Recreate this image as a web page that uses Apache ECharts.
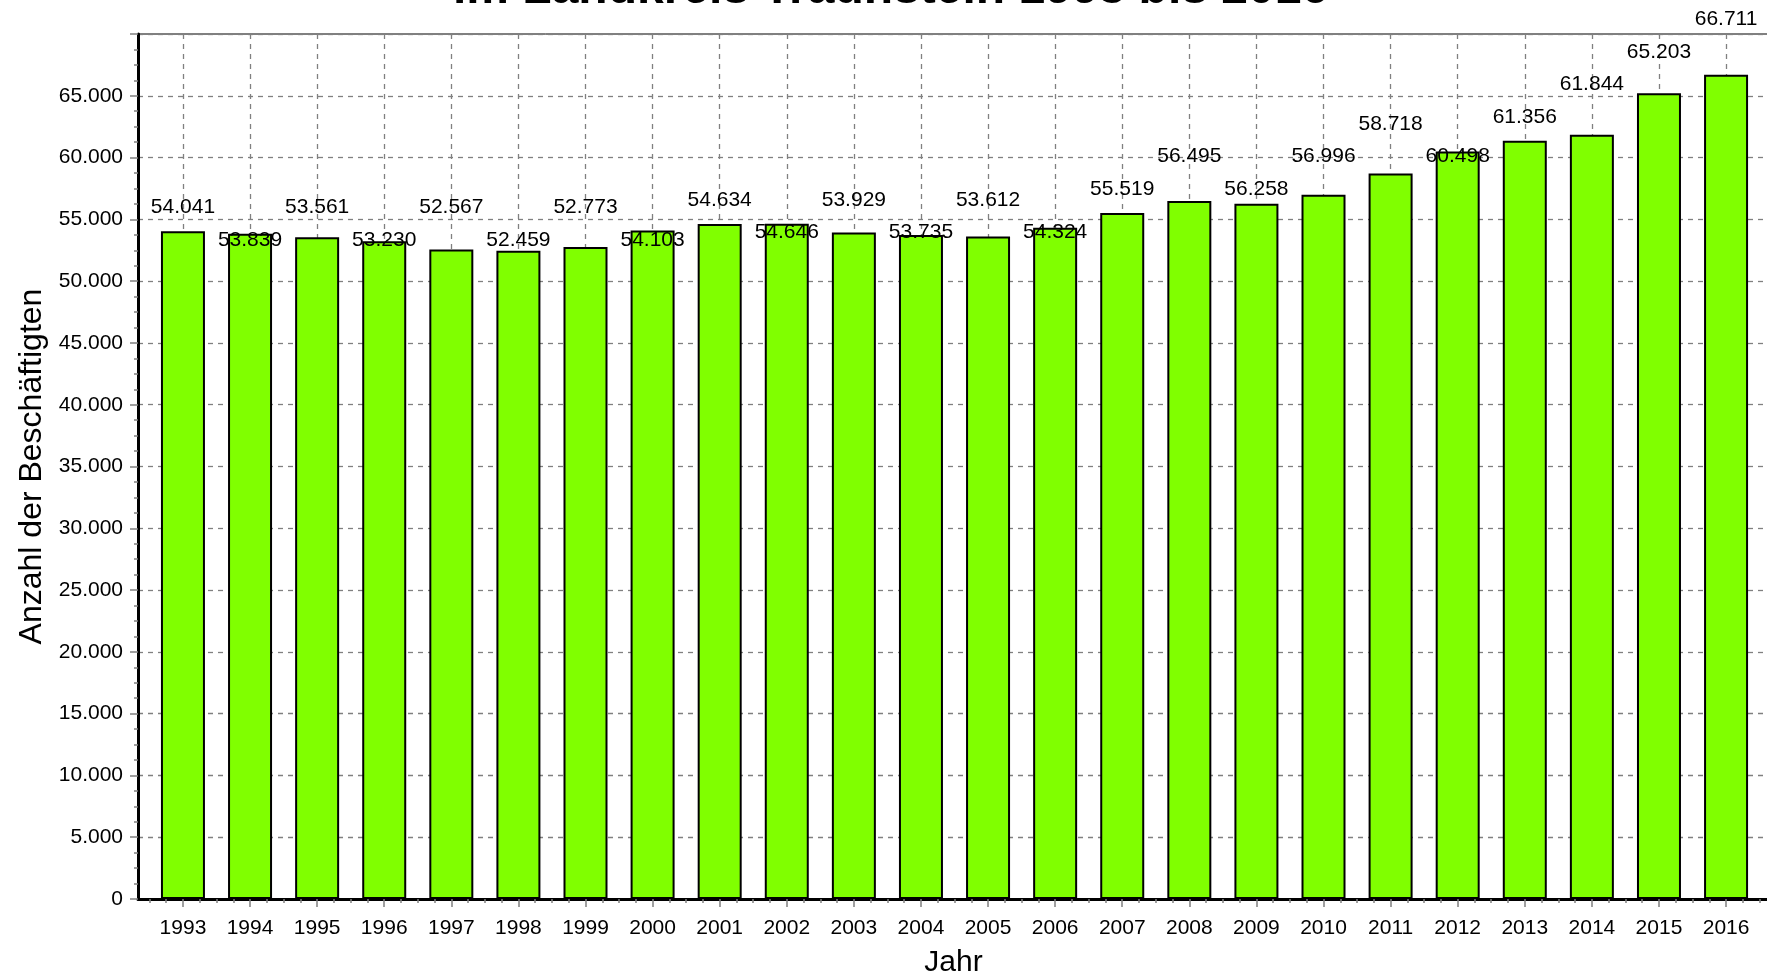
<!DOCTYPE html>
<html>
<head>
<meta charset="utf-8">
<script src="https://cdn.jsdelivr.net/npm/echarts@6/dist/echarts.min.js"></script>
<style>
html, body { margin: 0; padding: 0; background: #fff; }
#main { width: 1767px; height: 976px; }
</style>
</head>
<body>
<div id="main"></div>
<script>
(function(){
var years = [1993, 1994, 1995, 1996, 1997, 1998, 1999, 2000, 2001, 2002, 2003, 2004,
             2005, 2006, 2007, 2008, 2009, 2010, 2011, 2012, 2013, 2014, 2015, 2016];
var beschaeftigte = [54041, 53839, 53561, 53230, 52567, 52459, 52773, 54103, 54634, 54646, 53929, 53735,
                     53612, 54324, 55519, 56495, 56258, 56996, 58718, 60498, 61356, 61844, 65203, 66711];
var titel = 'im Landkreis Traunstein 1993 bis 2016';
var yName = 'Anzahl der Beschäftigten';
var xName = 'Jahr';

var FONT = '"Liberation Sans", Arial, sans-serif';
var xMin = 1992.33, xMax = 2016.64;

// Tausenderpunkt
function fmt(v){
    return String(v).replace(/\B(?=(\d{3})+(?!\d))/g, '.');
}

// Zwischenstriche (Viertel) auf der x-Achse
var quarterTicks = [];
for (var y = years[0] - 1; y <= years[years.length - 1]; y++) {
    [0.25, 0.5, 0.75].forEach(function(q){
        if (y + q > xMin && y + q < xMax) quarterTicks.push(y + q);
    });
}

var myChart = echarts.init(document.getElementById('main'));

var gridBox = { left: 138, right: -2, top: 34, bottom: 77, outerBoundsMode: 'none', containLabel: false };

option = {
    animation: false,
    backgroundColor: '#fff',
    title: {
        text: titel,
        left: 453,
        top: -34,
        padding: 0,
        textStyle: { fontFamily: FONT, fontSize: 48, fontWeight: 'bold', color: '#000' }
    },
    grid: [
        Object.assign({ show: true, borderColor: '#000', borderWidth: 1, backgroundColor: '#fff' }, gridBox),
        Object.assign({}, gridBox)
    ],
    xAxis: [{
        type: 'value',
        gridIndex: 0,
        min: xMin,
        max: xMax,
        name: xName,
        nameLocation: 'middle',
        nameGap: 49,
        nameTextStyle: { fontFamily: FONT, fontSize: 30, color: '#000' },
        axisLine: { show: true, onZero: false, lineStyle: { color: '#000', width: 3 } },
        axisTick: { show: true, customValues: years, length: 8, lineStyle: { color: '#808080', width: 1.5 } },
        axisLabel: {
            customValues: years, margin: 19, fontFamily: FONT, fontSize: 21, color: '#000',
            formatter: function (v) { return String(v); }
        },
        splitLine: { show: true, lineStyle: { color: '#808080', width: 1.3, type: [5, 5] } }
    }, {
        type: 'value',
        gridIndex: 1,
        min: xMin,
        max: xMax,
        axisLine: { show: false },
        axisTick: { show: true, customValues: quarterTicks, length: 4, lineStyle: { color: '#808080', width: 1.5 } },
        axisLabel: { show: false },
        splitLine: { show: false }
    }],
    yAxis: [{
        type: 'value',
        gridIndex: 0,
        min: 0,
        max: 70000,
        interval: 5000,
        name: yName,
        nameLocation: 'middle',
        nameGap: 90,
        nameTextStyle: { fontFamily: FONT, fontSize: 32, color: '#000' },
        axisLine: { show: true, onZero: false, lineStyle: { color: '#000', width: 3 } },
        axisTick: { show: true, length: 8, lineStyle: { color: '#808080', width: 1.5 } },
        minorTick: { show: true, splitNumber: 4, length: 4, lineStyle: { color: '#808080', width: 1.5 } },
        axisLabel: {
            margin: 15, fontFamily: FONT, fontSize: 21, color: '#000',
            formatter: function (v) { return v >= 70000 ? '' : fmt(v); }
        },
        splitLine: { show: true, lineStyle: { color: '#808080', width: 1.3, type: [5, 5] } }
    }, {
        type: 'value', gridIndex: 1, min: 0, max: 70000, show: false
    }],
    series: [{
        type: 'bar',
        xAxisIndex: 0,
        yAxisIndex: 0,
        barWidth: 44,
        data: years.map(function (y, i) { return [y, beschaeftigte[i]]; }),
        itemStyle: { color: '#80FF00', borderColor: '#000', borderWidth: 2 },
        label: {
            show: true,
            position: 'top',
            align: 'center',
            verticalAlign: 'middle',
            fontFamily: FONT,
            fontSize: 21,
            color: '#000',
            formatter: function (p) { return fmt(p.value[1]); }
        }
    }]
};
myChart.setOption(option);

// Beschriftungen wie im Original gegeneinander versetzen, damit sie sich nicht ueberlappen
var stepPx = 32.5, liftPx = 24, bias = 1.8;
var placed = [];
var data = beschaeftigte.map(function (v, i) {
    var top = myChart.convertToPixel({ gridIndex: 0 }, [years[i], v])[1];
    var nat = top - liftPx, yy = nat;
    if (i > 0 && Math.abs(nat - placed[i - 1]) < stepPx) {
        var up = placed[i - 1] - stepPx, down = placed[i - 1] + stepPx;
        yy = (down - nat < nat - up + bias) ? down : up;
    }
    placed.push(yy);
    return { value: [years[i], v], label: { position: ['50%', yy - top] } };
});
myChart.setOption({ series: [{ data: data }] });
})();
</script>
</body>
</html>
